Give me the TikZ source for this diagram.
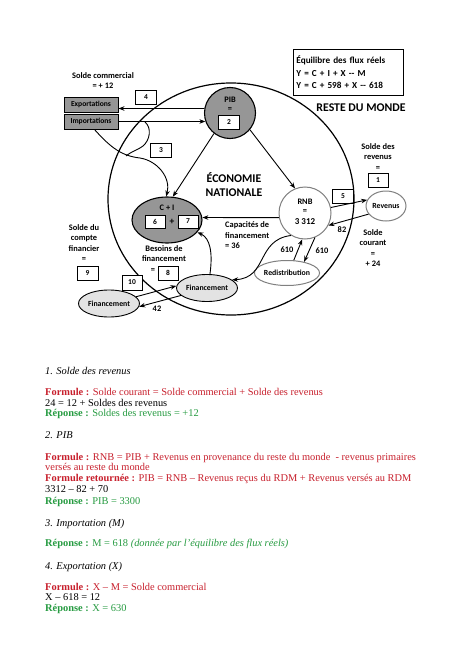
\documentclass[tikz,border=0pt]{standalone}
\usepackage{fontspec}
\setmainfont{Liberation Serif}
\newfontfamily\calf{Carlito}
\usetikzlibrary{arrows.meta,shapes.geometric}
\definecolor{rouge}{RGB}{200,32,45}
\definecolor{vert}{RGB}{38,155,65}
\definecolor{fond}{RGB}{150,150,150}
\begin{document}
\begin{tikzpicture}[x=1pt,y=-1pt,
  lbl/.style={font=\calf\bfseries\fontsize{8.4}{10.6}\selectfont, align=center, inner sep=0pt},
  numbox/.style={draw, line width=0.8pt, minimum width=21pt, minimum height=14pt, inner sep=0pt, font=\calf\bfseries\fontsize{7.5}{8}\selectfont, fill=white},
  flow/.style={-{Stealth[length=6pt,width=4.5pt]}, line width=0.9pt},
  plain/.style={line width=0.9pt},
  greybox/.style={draw, line width=0.9pt, fill=fond, minimum width=54pt, minimum height=15pt, inner sep=0pt, font=\calf\bfseries\fontsize{7.6}{8}\selectfont},
  finnode/.style={ellipse, draw, line width=0.9pt, fill=gray!22, minimum width=61pt, minimum height=27pt, inner sep=0pt, font=\calf\bfseries\fontsize{7.8}{8}\selectfont},
  txt/.style={anchor=base west, inner sep=0pt, font=\fontsize{10.4}{11}\selectfont},
]
\useasboundingbox (0,0) rectangle (474,669);
\fill[white] (0,0) rectangle (474,669);

% big circle: economie nationale
\node[ellipse, draw, line width=1.2pt, minimum width=246pt, minimum height=232pt, inner sep=0pt] (eco) at (231,199) {};
\node[font=\calf\bfseries\fontsize{11.8}{14}\selectfont, align=center, inner sep=0pt] (ecot) at (234,185) {ÉCONOMIE\\NATIONALE};

% equilibre box
\node[draw, line width=0.9pt, anchor=north west, minimum width=110pt, minimum height=46pt, text width=104pt, inner xsep=3pt, align=left, font=\calf\bfseries\fontsize{9.2}{12.5}\selectfont] (equi) at (293,49) {Équilibre des flux réels\\Y = C + I + X -- M\\Y = C + 598 + X -- 618};
\node[font=\calf\bfseries\fontsize{11.8}{12}\selectfont, inner sep=0pt] (rdm) at (361,108) {RESTE DU MONDE};

% PIB
\node[circle, draw, line width=1.1pt, fill=fond, minimum size=51pt, inner sep=0pt] (pib) at (230,113) {};
\node[lbl] (pibt) at (230,100) {PIB};
\node[lbl] (pibeq) at (230,110) {=};
\node[numbox] (b2) at (229,122) {2};

% exports / imports
\node[greybox] (expo) at (91,104.5) {Exportations};
\node[greybox] (impo) at (91,121.5) {Importations};
\node[lbl] (solcom) at (103,80.5) {Solde commercial\\= + 12};
\node[numbox] (b4) at (146,97.5) {4};
\node[numbox] (b3) at (161,150.5) {3};

\draw[flow] (pib.170) -- ([yshift=-4pt]expo.east);
\draw[flow] (impo.east) -- (pib.199);

% C + I
\node[ellipse, draw, line width=1.1pt, fill=fond, minimum width=70pt, minimum height=46pt, inner sep=0pt] (ci) at (167,220) {};
\node[lbl] (cit) at (167,208) {C + I};
\node[numbox, minimum width=20pt, minimum height=13pt] (b6) at (155,221.5) {6};
\node[lbl, font=\calf\bfseries\fontsize{9.5}{10}\selectfont] (ciplus) at (172,222) {+};
\node[numbox, minimum width=20pt, minimum height=13pt] (b7) at (188,221.5) {7};

% imports -> C+I curve and brace
\draw[flow] ([xshift=-24pt]impo.south east) .. controls (111,148) and (122,156) .. (140,158) .. controls (158,161) and (171,178) .. (ci.92);
\coordinate (bra0) at (145,122);
\draw[plain] (bra0) .. controls (152,128) and (150,140) .. (143,146) .. controls (138,150) and (132,151) .. (126,156);

% PIB -> C+I, PIB -> RNB
\draw[flow] (pib.232) -- (ci.76);

% RNB
\node[circle, draw=gray, line width=1pt, fill=white, minimum size=52pt, inner sep=0pt] (rnb) at (305,213) {};
\node[lbl] (rnbt) at (305,202) {RNB};
\node[lbl] (rnbeq) at (305,211.5) {=};
\node[lbl, font=\calf\bfseries\fontsize{9}{9}\selectfont] (rnbv) at (305,222) {3 312};
\draw[flow] (pib.-40) -- (rnb.112);

% RNB -> C+I
\draw[flow] (rnb.190) -- (ci.4);
\node[lbl, align=left, anchor=north west] (capa) at (225,221.5) {Capacités de\\financement\\= 36};

% Revenus
\node[ellipse, draw=gray, line width=1pt, fill=white, minimum width=40pt, minimum height=30pt, inner sep=0pt, font=\calf\bfseries\fontsize{7.8}{8}\selectfont] (rev) at (386,206) {Revenus};
\node[numbox] (b5) at (343,196) {5};
\draw[flow] (rnb.12) -- (rev.162);
\draw[flow] (rev.205) -- (rnb.-28);
\node[lbl] (n82) at (342,230) {82};
\node[lbl] (solrev) at (378,157) {Solde des\\revenus\\=};
\node[numbox, minimum width=20pt] (b1) at (378,180) {1};
\node[lbl] (solcour) at (373,248) {Solde\\courant\\=\\+ 24};

% Redistribution
\node[ellipse, draw=gray, line width=1pt, fill=white, minimum width=58pt, minimum height=25pt, inner sep=0pt, font=\calf\bfseries\fontsize{7.8}{8}\selectfont] (redis) at (287,273) {Redistribution};
\draw[flow] (redis.62) -- (rnb.-96);
\draw[flow] (rnb.-68) -- (redis.33);
\node[lbl] (n610a) at (287,250) {610};
\node[lbl] (n610b) at (322,251) {610};

% Financement nodes
\node[finnode] (fin2) at (207,288) {Financement};
\node[finnode] (fin1) at (109,303.5) {Financement};
\draw[flow] (rnb.238) .. controls (256,240) and (268,278) .. (fin2.18);
\draw[flow] (fin2.78) .. controls (213,252) and (210,238) .. (ci.-22);
\draw[flow] (fin1.14) -- (fin2.176);
\draw[flow] (fin2.196) -- (fin1.-6);
\node[lbl] (n42) at (157,308.5) {42};
\node[numbox, minimum width=20pt, minimum height=15pt] (b10) at (132,282.5) {10};

\node[lbl] (besoins) at (164,253.5) {Besoins de\\financement};
\node[lbl] (beseq) at (153,271) {=};
\node[numbox, minimum width=20pt] (b8) at (168,273) {8};
\node[lbl] (solfin) at (84,243) {Solde du\\compte\\financier\\=};
\node[numbox, minimum width=21pt] (b9) at (87.5,273) {9};

% ---------- text ----------
\node[txt] (t1) at (45,374) {\itshape 1. Solde des revenus};
\node[txt, text=rouge] (t2) at (45,395) {\textbf{Formule :} Solde courant = Solde commercial + Solde des revenus};
\node[txt] (t3) at (45,406) {24 = 12 + Soldes des revenus};
\node[txt, text=vert] (t4) at (45,416.5) {\textbf{Réponse :} Soldes des revenus = +12};
\node[txt] (t5) at (45,438) {\itshape 2. PIB};
\node[txt, text=rouge] (t6) at (45,460) {\textbf{Formule :} RNB = PIB + Revenus en provenance du reste du monde \ - revenus primaires};
\node[txt, text=rouge] (t7) at (45,470.5) {versés au reste du monde};
\node[txt, text=rouge] (t8) at (45,481) {\textbf{Formule retournée :} PIB = RNB -- Revenus reçus du RDM + Revenus versés au RDM};
\node[txt] (t9) at (45,492) {3312 -- 82 + 70};
\node[txt, text=vert] (t10) at (45,504) {\textbf{Réponse :} PIB = 3300};
\node[txt] (t11) at (45,526) {\itshape 3. Importation (M)};
\node[txt, text=vert] (t12) at (45,546) {\textbf{Réponse :} M = 618 \textit{(donnée par l'équilibre des flux réels)}};
\node[txt] (t13) at (45,569) {\itshape 4. Exportation (X)};
\node[txt, text=rouge] (t14) at (45,590) {\textbf{Formule :} X -- M = Solde commercial};
\node[txt] (t15) at (45,600.5) {X -- 618 = 12};
\node[txt, text=vert] (t16) at (45,611) {\textbf{Réponse :} X = 630};
\end{tikzpicture}
\end{document}
